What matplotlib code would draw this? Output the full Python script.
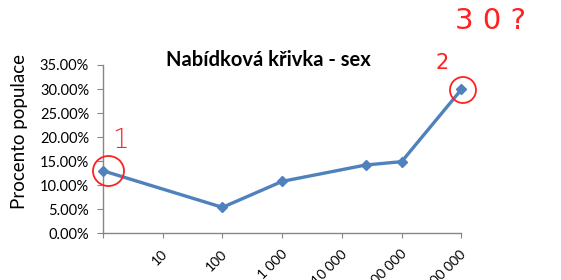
import matplotlib
matplotlib.use("Agg")
import matplotlib.pyplot as plt
from matplotlib.patches import Ellipse
import matplotlib.transforms as mtransforms

# data (log x axis, percent y axis)
x_vals = [1, 100, 1000, 25000, 100000, 1000000]
y_vals = [13.0, 5.4, 10.8, 14.2, 14.9, 29.9]

x_ticks = [1, 10, 100, 1000, 10000, 100000, 1000000]
x_labels = ["", "10", "100", "1 000", "10 000", "100 000", "1 000 000"]
y_ticks = [0, 5, 10, 15, 20, 25, 30, 35]

plt.rcParams["font.family"] = ["Lato", "DejaVu Sans"]

fig = plt.figure(figsize=(5.61, 2.8), dpi=100)
ax = fig.add_axes([0.1836, 0.1667, 0.8224 - 0.1836, 0.768 - 0.1667])

ax.plot(x_vals, y_vals, color="#4F81BD", lw=2.4, marker="D", ms=5.5,
        mec="#4F81BD", mfc="#4F81BD", clip_on=False, zorder=3)

ax.set_xscale("log")
ax.set_xlim(1, 1e6)
ax.set_ylim(0, 35)
ax.set_xticks(x_ticks)
ax.set_xticklabels(x_labels, rotation=45, ha="right", va="center",
                   rotation_mode="anchor", fontsize=10)
ax.xaxis.set_minor_locator(matplotlib.ticker.NullLocator())
ax.set_yticks(y_ticks)
ax.set_yticklabels([f"{v:.2f}%" for v in y_ticks], fontsize=10.5)

for s in ["top", "right"]:
    ax.spines[s].set_visible(False)
for s in ["left", "bottom"]:
    ax.spines[s].set_color("#868686")
    ax.spines[s].set_linewidth(1.0)
ax.tick_params(axis="y", length=4, color="#868686", pad=6)
ax.tick_params(axis="x", length=3.5, color="#868686", pad=10)

# shift x labels slightly right so their end sits near the tick
offset = mtransforms.ScaledTranslation(2 / 72, 0, fig.dpi_scale_trans)
for lbl in ax.get_xticklabels():
    lbl.set_transform(lbl.get_transform() + offset)

fig.text(0.478, 0.785, "Nabídková křivka - sex", ha="center", va="center",
         fontsize=14.5, fontweight="bold")
fig.text(0.034, 0.53, "Procento populace", rotation=90, ha="center",
         va="center", fontsize=13.5)

# red handwritten notes
red = "#FF2020"
fig.text(0.215, 0.50, "1", color=red, fontsize=19, ha="center", va="center",
         family="DejaVu Sans", fontweight="light")
fig.text(0.788, 0.775, "2", color=red, fontsize=15, ha="center", va="center",
         family="DejaVu Sans")
fig.text(0.875, 0.925, "3 0 ?", color=red, fontsize=21, ha="center",
         va="center", family="DejaVu Sans")
fig.add_artist(Ellipse((108.5 / 561, 1 - 171 / 280), 31 / 561, 30 / 280,
                       transform=fig.transFigure, fill=False, ec=red, lw=1.3))
fig.add_artist(Ellipse((463 / 561, 1 - 90 / 280), 26 / 561, 26 / 280,
                       transform=fig.transFigure, fill=False, ec=red, lw=1.3))

fig.savefig("out.png", dpi=100)
